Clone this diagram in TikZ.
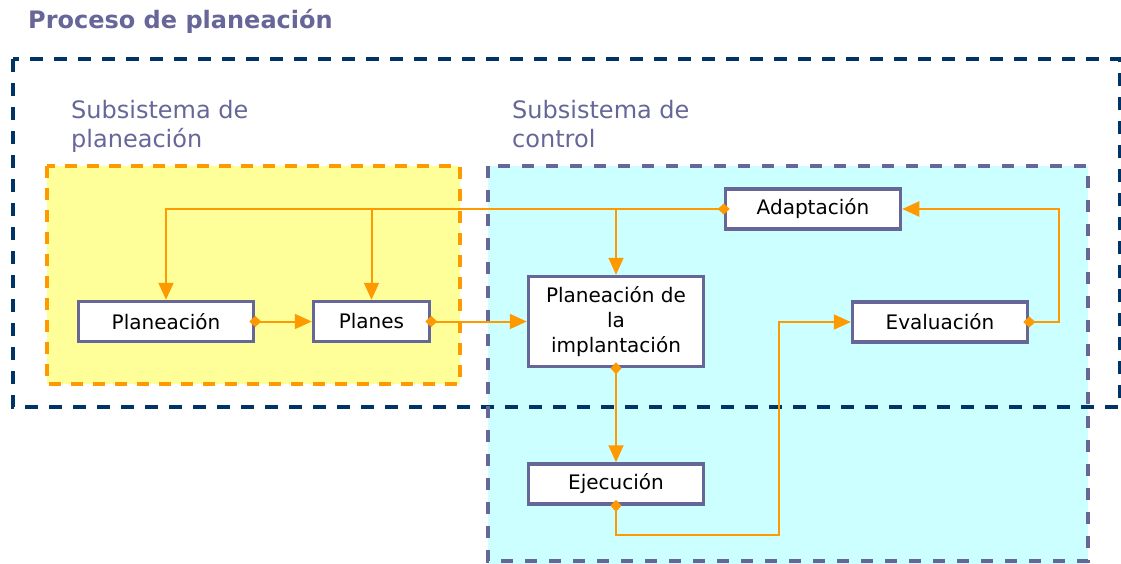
\documentclass[tikz,border=0pt]{standalone}
\usepackage{fontspec}
\setmainfont{DejaVu Sans}
\usetikzlibrary{positioning, arrows.meta, calc}
\definecolor{navyline}{HTML}{003366}
\definecolor{slateline}{HTML}{666699}
\definecolor{flowline}{HTML}{FF9900}
\definecolor{planfill}{HTML}{FFFF99}
\definecolor{ctrlfill}{HTML}{CCFFFF}

\begin{document}
\begin{tikzpicture}[x=1pt, y=-1pt,
    block/.style={draw=slateline, line width=3.5pt, fill=white, minimum width=175pt,
        minimum height=40pt, inner sep=0pt, align=center,
        font=\fontsize{20}{25}\selectfont},
    flow/.style={draw=flowline, line width=2pt, -{Triangle[length=17pt,width=15pt]}},
    dflow/.style={flow, shorten <=-6pt,
        {Diamond[length=12pt,width=11pt]}-{Triangle[length=17pt,width=15pt]}},
    sublabel/.style={text=slateline, anchor=base west, inner sep=0pt, align=left,
        font=\fontsize{24}{29}\selectfont}]

    \useasboundingbox (0,0) rectangle (1121,563);

    % background of the two subsystems
    \fill[planfill] (47,166) rectangle (460,384);
    \fill[ctrlfill] (488,166) rectangle (1088,565);

    % frames
    \draw[navyline, line width=3.2pt, dash pattern=on 13pt off 11pt] (13,59) rectangle (1120,407);
    \draw[flowline, line width=3.2pt, dash pattern=on 12pt off 10pt] (47,166) rectangle (460,384);
    \draw[slateline, line width=3.2pt, dash pattern=on 12pt off 12pt] (488,166) rectangle (1088,561);

    % titles
    \node[anchor=base west, inner sep=0pt, text=slateline,
        font=\bfseries\fontsize{24}{29}\selectfont] (title) at (28,28) {Proceso de planeación};
    \node[sublabel] (subplan) at (71,147) {Subsistema de\\planeación};
    \node[sublabel] (subctrl) at (512,147) {Subsistema de\\control};

    % boxes
    \foreach \name/\x/\y/\w/\txt in {
        plan/166/321.5/175/Planeación,
        planes/371.5/321.5/116/Planes,
        adapt/813/209/175/Adaptación,
        eval/940/322/175/Evaluación,
        ejec/616/484/175/Ejecución}{
        \node[block, minimum width=\w pt] (\name) at (\x,\y) {\txt};
    }
    \node[block, minimum height=90pt] (impl) at (616,321.5) {Planeación de\\la\\implantación};

    % connectors
    \draw[dflow] (adapt.west) -| (plan.north);
    \coordinate (brplanes) at (planes.north |- adapt.west);
    \coordinate (brimpl) at (impl.north |- adapt.west);
    \draw[flow] (brplanes) -- (planes.north);
    \draw[flow] (brimpl) -- (impl.north);

    \draw[dflow] (plan.east) -- (planes.west);
    \draw[dflow] (planes.east) -- (impl.west);
    \draw[dflow] (impl.south) -- (ejec.north);

    \coordinate (ejbend) at (779,535);
    \draw[dflow] (ejec.south) |- (ejbend) |- (eval.west);

    \coordinate (evbend) at (1059,322);
    \draw[dflow] (eval.east) -- (evbend) |- (adapt.east);
\end{tikzpicture}
\end{document}
